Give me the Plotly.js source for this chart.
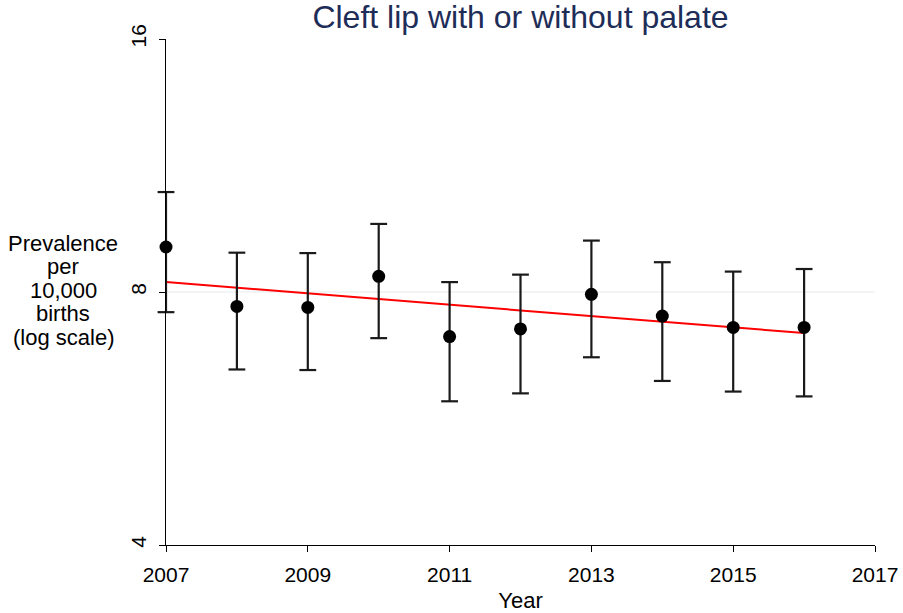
<!DOCTYPE html>
<html>
<head>
<meta charset="utf-8">
<script src="https://cdn.plot.ly/plotly-3.0.1.min.js"></script>
<style>html,body{margin:0;padding:0;background:#fff;}#chart{width:903px;height:613px;}</style>
</head>
<body>
<div id="chart"></div>
<script>
// Data
const years = [2007, 2008, 2009, 2010, 2011, 2012, 2013, 2014, 2015, 2016];
const prevalence = [9.05, 7.69, 7.67, 8.35, 7.08, 7.23, 7.95, 7.49, 7.26, 7.26];
const upperCI = [10.52, 8.91, 8.90, 9.64, 8.22, 8.39, 9.21, 8.68, 8.46, 8.52];
const lowerCI = [7.57, 6.47, 6.46, 7.05, 5.93, 6.06, 6.69, 6.27, 6.09, 6.01];
const trendYears = [2007, 2016];
const trendValues = [8.22, 7.15];
const yTickVals = [4, 8, 16];
const xTickVals = [2007, 2009, 2011, 2013, 2015, 2017];
const gridValues = [8];
const yTitleLines = ["Prevalence", "per", "10,000", "births", "(log scale)"];

const FONT = "Liberation Sans, Arial, Helvetica, sans-serif";
const BAR = "#1a1a1a";

const traces = [
  {
    x: trendYears, y: trendValues, type: "scatter", mode: "lines",
    line: {color: "#ff0000", width: 2},
    showlegend: false, cliponaxis: false
  },
  {
    // vertical confidence-interval lines
    x: years, y: prevalence, type: "scatter", mode: "markers",
    marker: {color: "#000000", size: 13},
    error_y: {
      type: "data", symmetric: false,
      array: upperCI.map((u, i) => u - prevalence[i]),
      arrayminus: lowerCI.map((l, i) => prevalence[i] - l),
      color: BAR, thickness: 2.2, width: 0
    },
    showlegend: false, cliponaxis: false
  },
  {
    // caps of the confidence intervals
    x: years.concat(years), y: upperCI.concat(lowerCI), type: "scatter", mode: "markers",
    marker: {symbol: "line-ew-open", size: 12, color: BAR, line: {color: BAR, width: 2.2}},
    showlegend: false, cliponaxis: false
  }
];

const annotations = yTitleLines.map((t, i) => ({
  text: t, xref: "paper", yref: "paper", x: -0.145, y: 0.5,
  xanchor: "center", yanchor: "middle", showarrow: false,
  yshift: (2 - i) * 23.5 + 2,
  font: {family: FONT, size: 22, color: "#000000"}
}));

const shapes = gridValues.map(v => ({
  type: "line", xref: "paper", yref: "y", x0: 0, x1: 1, y0: v, y1: v,
  line: {color: "#e6eaec", width: 1.2}, layer: "below"
}));

const layout = {
  width: 903, height: 613,
  margin: {l: 166, r: 28, t: 39, b: 68},
  paper_bgcolor: "#ffffff", plot_bgcolor: "#ffffff",
  font: {family: FONT, color: "#000000"},
  title: {
    text: "Cleft lip with or without palate",
    font: {family: FONT, size: 32, color: "#1e2d58"},
    x: 0.5, xref: "paper", xanchor: "center",
    y: 0.972, yref: "container", yanchor: "middle"
  },
  xaxis: {
    range: [2007, 2017], tickvals: xTickVals, ticktext: xTickVals.map(String),
    showgrid: false, zeroline: false, showline: true, linecolor: "#000000", linewidth: 1,
    ticks: "outside", ticklen: 6, tickcolor: "#000000", tickwidth: 1,
    ticklabelstandoff: 5,
    tickfont: {family: FONT, size: 21, color: "#000000"},
    title: {text: "Year", font: {family: FONT, size: 22, color: "#000000"}, standoff: 19}
  },
  yaxis: {
    type: "log", range: [Math.log10(4), Math.log10(16)],
    tickvals: yTickVals, ticktext: yTickVals.map(String),
    showgrid: false, zeroline: false, showline: true, linecolor: "#000000", linewidth: 1,
    ticks: "outside", ticklen: 6, tickcolor: "#000000", tickwidth: 1,
    tickangle: -90, ticklabelstandoff: 5,
    tickfont: {family: FONT, size: 21, color: "#000000"}
  },
  annotations: annotations,
  shapes: shapes
};

Plotly.newPlot("chart", traces, layout, {displayModeBar: false, staticPlot: true});
</script>
</body>
</html>
